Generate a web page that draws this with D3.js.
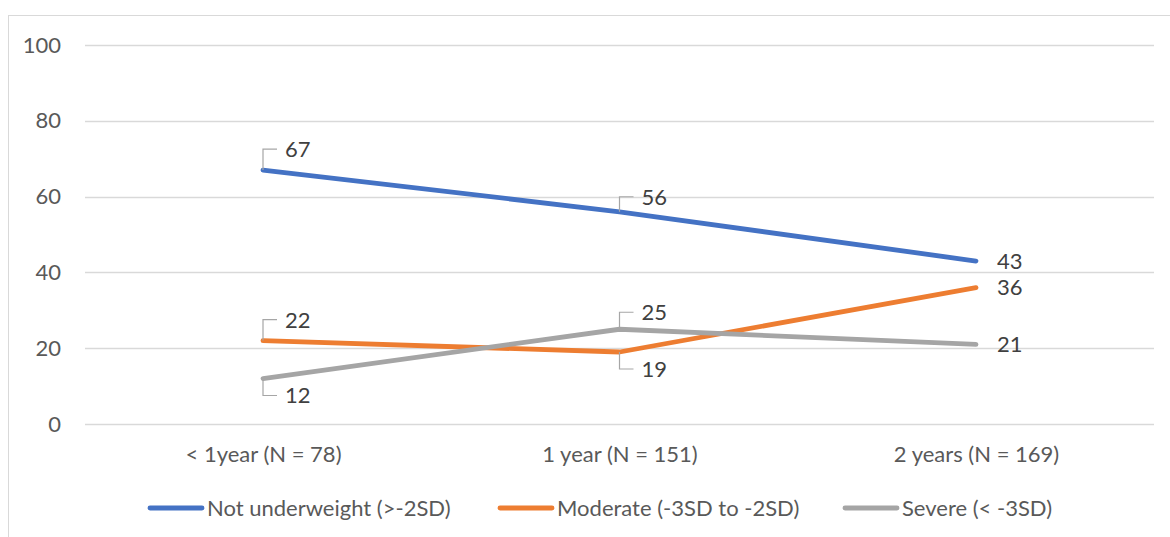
<!DOCTYPE html>
<html><head><meta charset="utf-8">
<script src="https://cdn.jsdelivr.net/npm/d3@7/dist/d3.min.js"></script>
<style>body{margin:0;background:#fff}svg{display:block}text{font-family:Lato,"Open Sans",sans-serif}</style>
</head><body><svg id="c" width="1170" height="537"></svg>
<script>
const categories = ["< 1year (N = 78)", "1 year (N = 151)", "2 years (N = 169)"];
const seriesNames = ["Not underweight (>-2SD)", "Moderate (-3SD to -2SD)", "Severe (< -3SD)"];
const notUnderweight = [67, 56, 43];
const moderate = [22, 19, 36];
const severe = [12, 25, 21];
const yTicks = [0, 20, 40, 60, 80, 100];
const colors = ["#4472C4", "#ED7D31", "#A5A5A5"];
// label placement: vertical offset in px of the label from its point (leader when nonzero)
const labelDy = [[-21, -15, 0], [-21, 17, 0], [17, -17, 0]];

const series = [notUnderweight, moderate, severe];
const svg = d3.select("#c");
const FS = 22;
svg.append("rect").attr("x", 8.5).attr("y", 15.5).attr("width", 1170).attr("height", 540)
  .attr("fill", "none").attr("stroke", "#d9d9d9").attr("stroke-width", 1);

const x = d3.scalePoint().domain(categories).range([263, 976]);
const y = d3.scaleLinear().domain([0, 100]).range([424, 45]);

// gridlines
svg.append("g").selectAll("line").data(yTicks).join("line")
  .attr("x1", 85).attr("x2", 1154)
  .attr("y1", d => Math.round(y(d)) + 0.5).attr("y2", d => Math.round(y(d)) + 0.5)
  .attr("stroke", "#d9d9d9").attr("stroke-width", 1.3);

// y axis labels
const yAxis = d3.axisLeft(y).tickValues(yTicks).tickSize(0).tickPadding(0);
const gy = svg.append("g").attr("transform", "translate(61,0)").call(yAxis);
gy.select(".domain").remove();
gy.selectAll("text").attr("font-size", FS).attr("fill", "#595959").attr("font-family", "Lato");

// x axis labels
const xAxis = d3.axisBottom(x).tickSize(0).tickPadding(0);
const gx = svg.append("g").attr("transform", "translate(0,446)").call(xAxis);
gx.select(".domain").remove();
gx.selectAll("text").attr("font-size", FS).attr("fill", "#595959").attr("font-family", "Lato");

const line = d3.line().x((d, i) => x(categories[i])).y(d => y(d));
series.forEach((s, si) => {
  svg.append("path").datum(s).attr("d", line).attr("fill", "none")
    .attr("stroke", colors[si]).attr("stroke-width", 4.8)
    .attr("stroke-linecap", "round").attr("stroke-linejoin", "round");
});

// data labels
series.forEach((s, si) => {
  s.forEach((v, i) => {
    const px = x(categories[i]), py = y(v);
    const dy = labelDy[si][i];
    if (dy !== 0) {
      const ly = py + dy;
      svg.append("path")
        .attr("d", `M${px},${py} L${px},${ly} L${px + 14},${ly}`)
        .attr("fill", "none").attr("stroke", "#a6a6a6").attr("stroke-width", 1.2);
      svg.append("text").attr("x", px + 22).attr("y", ly).attr("dy", "0.36em")
        .attr("font-size", FS).attr("fill", "#404040").text(v);
    } else {
      svg.append("text").attr("x", px + 21).attr("y", py).attr("dy", "0.36em")
        .attr("font-size", FS).attr("fill", "#404040").text(v);
    }
  });
});

// legend
const legX = [148, 498, 843];
seriesNames.forEach((n, i) => {
  const g = svg.append("g").attr("transform", `translate(${legX[i]},508)`);
  g.append("line").attr("x1", 2).attr("x2", 54).attr("y1", 0).attr("y2", 0)
    .attr("stroke", colors[i]).attr("stroke-width", 4.8).attr("stroke-linecap", "round");
  g.append("text").attr("x", 59).attr("y", 0).attr("dy", "0.36em")
    .attr("font-size", FS).attr("fill", "#595959").text(n);
});
</script></body></html>
